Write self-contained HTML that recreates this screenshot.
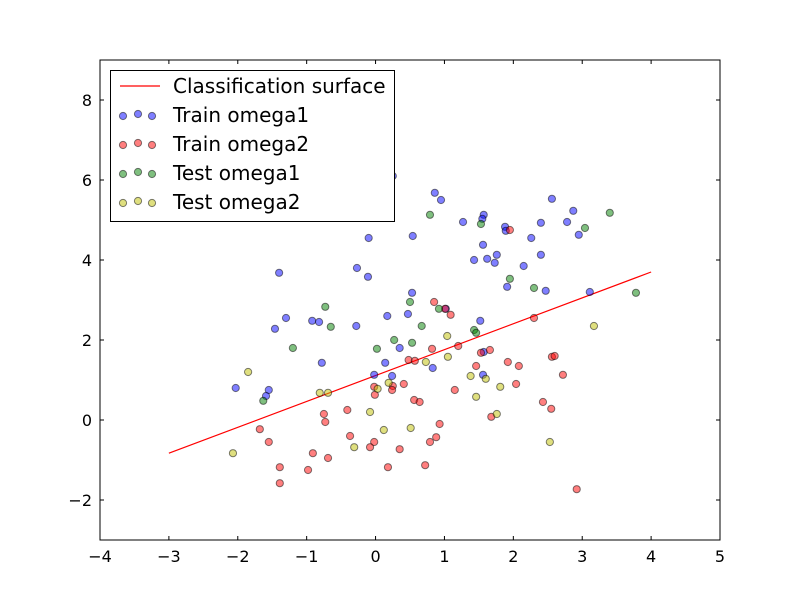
<!DOCTYPE html>
<html><head><meta charset="utf-8"><style>
body{margin:0;background:#fff}
svg text{font-family:"DejaVu Sans","Liberation Sans",sans-serif}
</style></head><body>
<svg id="chart" width="800" height="600" viewBox="0 0 800 600" xmlns="http://www.w3.org/2000/svg">
<rect x="0" y="0" width="800" height="600" fill="#fff"/>
<g id="marks"></g>
<g id="axes"></g>
<g id="legend"></g>
</svg>
<script>
const xTicks=[-4,-3,-2,-1,0,1,2,3,4,5];
const yTicks=[-2,0,2,4,6,8];
const lineX=[-3,4];
const lineY=[-0.83,3.7];
const trainOmega1X=[0.86,0.95,1.27,-0.10,0.54,-1.40,-0.27,-0.11,0.53,-1.30,-1.46,-0.92,-0.82,-0.28,0.17,0.47,0.35,-0.78,0.14,-0.02,0.24,-2.03,-1.55,-1.59,0.83,1.02,0.25,2.56,2.87,2.78,2.95,2.40,2.26,2.40,2.15,1.57,1.55,1.88,1.89,1.56,1.76,1.62,1.73,1.43,1.91,2.47,3.11,1.52,1.57,1.56];
const trainOmega1Y=[5.68,5.5,4.95,4.55,4.6,3.68,3.8,3.58,3.18,2.55,2.28,2.48,2.45,2.35,2.6,2.65,1.8,1.43,1.43,1.13,1.1,0.8,0.75,0.6,1.3,2.78,6.1,5.53,5.23,4.95,4.63,4.93,4.55,4.13,3.85,5.13,5.03,4.83,4.73,4.38,4.13,4.03,3.93,4.0,3.33,3.23,3.2,2.48,1.7,1.13];
const trainOmega2X=[0.85,1.09,1.01,1.20,0.82,0.48,0.57,0.41,-0.02,-0.01,0.25,0.24,0.56,0.64,1.15,-0.41,-0.75,-0.73,-1.68,-1.55,-0.37,-0.02,-0.08,0.35,0.79,0.88,0.93,-0.91,-0.69,-1.39,-0.98,-1.39,0.18,0.72,1.95,2.30,1.53,1.66,1.92,2.08,1.46,2.04,2.56,2.60,2.72,2.43,2.55,1.68,2.92];
const trainOmega2Y=[2.95,2.63,2.78,1.85,1.78,1.5,1.48,0.9,0.83,0.63,0.85,0.75,0.5,0.45,0.75,0.25,0.15,-0.05,-0.23,-0.55,-0.4,-0.55,-0.68,-0.73,-0.55,-0.43,-0.1,-0.83,-0.95,-1.18,-1.25,-1.58,-1.18,-1.13,4.75,2.55,1.68,1.75,1.45,1.35,1.35,0.9,1.58,1.6,1.13,0.45,0.28,0.08,-1.73];
const testOmega1X=[0.79,-0.73,-0.65,-1.20,-1.63,0.50,0.67,0.27,0.53,0.02,0.92,1.53,1.95,2.30,3.04,3.40,3.78,1.43,1.46];
const testOmega1Y=[5.13,2.83,2.33,1.8,0.48,2.95,2.35,2.0,1.93,1.78,2.78,4.9,3.53,3.3,4.8,5.18,3.18,2.25,2.18];
const testOmega2X=[-1.85,-2.07,-0.81,-0.69,-0.08,-0.31,0.12,0.51,0.19,0.03,0.73,1.04,1.05,1.38,1.60,1.81,1.46,1.76,3.17,2.53];
const testOmega2Y=[1.2,-0.83,0.68,0.68,0.2,-0.68,-0.25,-0.2,0.93,0.78,1.45,2.1,1.58,1.1,1.03,0.83,0.58,0.15,2.35,-0.55];

const L=100,R=720,T=60,B=540,xMin=-4,xMax=5,yMin=-3,yMax=9;
const sx=v=>L+(v-xMin)/(xMax-xMin)*(R-L);
const sy=v=>B-(v-yMin)/(yMax-yMin)*(B-T);
const NS="http://www.w3.org/2000/svg";
function mk(tag,attrs,parent){const e=document.createElementNS(NS,tag);for(const k in attrs)e.setAttribute(k,attrs[k]);parent.appendChild(e);return e;}
const marks=document.getElementById('marks'),axes=document.getElementById('axes'),legend=document.getElementById('legend');

const ln=mk('line',{x1:sx(lineX[0]),y1:sy(lineY[0]),x2:sx(lineX[1]),y2:sy(lineY[1]),stroke:'#ff0000','stroke-width':1.2},marks);



const series=[
 ['train-omega1',trainOmega1X,trainOmega1Y,'rgba(0,0,255,0.5)'],
 ['train-omega2',trainOmega2X,trainOmega2Y,'rgba(255,0,0,0.5)'],
 ['test-omega1',testOmega1X,testOmega1Y,'rgba(0,128,0,0.5)'],
 ['test-omega2',testOmega2X,testOmega2Y,'rgba(191,191,0,0.5)']];
series.forEach(s=>{
 const g=mk('g',{},marks);
 
 
 s[1].forEach((x,i)=>{
  const c=mk('circle',{cx:sx(x),cy:sy(s[2][i]),r:3.6,fill:s[3],stroke:'rgba(0,0,0,0.5)','stroke-width':1},g);
  
  
 });
});

const frame=mk('rect',{x:L,y:T,width:R-L,height:B-T,fill:'none',stroke:'#000','stroke-width':1},axes);


xTicks.forEach(t=>{
 const x=sx(t);
 mk('line',{x1:x,y1:B,x2:x,y2:B-4,stroke:'#000'},axes);
 mk('line',{x1:x,y1:T,x2:x,y2:T+4,stroke:'#000'},axes);
 const tx=mk('text',{x:x,y:B+22,'text-anchor':'middle','font-size':16},axes);
 tx.textContent=t<0?'\u2212'+Math.abs(t):String(t);
 
 
});
yTicks.forEach(t=>{
 const y=sy(t);
 mk('line',{x1:L,y1:y,x2:L+4,y2:y,stroke:'#000'},axes);
 mk('line',{x1:R,y1:y,x2:R-4,y2:y,stroke:'#000'},axes);
 const tx=mk('text',{x:L-8,y:y+6,'text-anchor':'end','font-size':16},axes);
 tx.textContent=t<0?'\u2212'+Math.abs(t):String(t);
 
 
});

const box=mk('rect',{x:110.5,y:70.5,width:284,height:151,fill:'#fff',stroke:'#000','stroke-width':1},legend);


const labels=['Classification surface','Train omega1','Train omega2','Test omega1','Test omega2'];
labels.forEach((lab,i)=>{
 const y=86+i*29;
 const g=mk('g',{},legend);
 
 
 if(i===0){mk('line',{x1:120,y1:y,x2:160,y2:y,stroke:'#ff0000','stroke-width':1.2},g);}
 else{[123,138,152].forEach((cx,j)=>mk('circle',{cx:cx,cy:y+(j===1?-1:1),r:3.6,fill:series[i-1][3],stroke:'rgba(0,0,0,0.5)'},g));}
 const t=mk('text',{x:173,y:y+7,'font-size':20},g);
 t.textContent=lab;
});
</script>
</body></html>
